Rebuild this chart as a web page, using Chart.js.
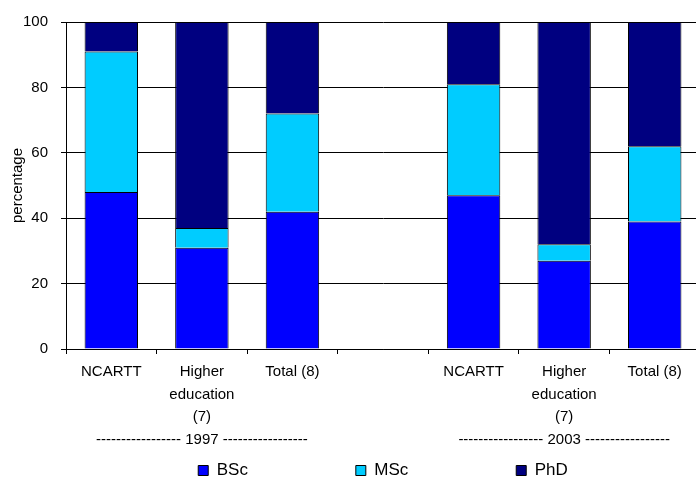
<!DOCTYPE html>
<html>
<head>
<meta charset="utf-8">
<script src="https://cdn.jsdelivr.net/npm/chart.js@4.4.1/dist/chart.umd.min.js"></script>
<style>
  html, body { margin: 0; padding: 0; background: #fff; overflow: hidden; }
  #wrap { width: 700px; height: 489px; }
</style>
</head>
<body>
<div id="wrap"><canvas id="grafico"></canvas></div>
<script>
// Datos del gráfico
const categorias = [
  "NCARTT",
  ["Higher", "education", "(7)", "----------------- 1997 -----------------"],
  "Total (8)",
  "",
  "NCARTT",
  ["Higher", "education", "(7)", "----------------- 2003 -----------------"],
  "Total (8)"
];
const series = ["BSc", "MSc", "PhD"];
const valoresBSc = [48, 31, 42, null, 47, 27, 39];
const valoresMSc = [43, 6, 30, null, 34, 5, 23];
const valoresPhD = [9, 63, 28, null, 19, 68, 38];
const ticksY = [0, 20, 40, 60, 80, 100];
const colores = ["#0000FF", "#00CCFF", "#000080"];

// espacios al final de cada texto de la leyenda para separar los elementos
const espaciosLeyenda = [22, 22, 0];

const fuente = "Arial, 'Liberation Sans', sans-serif";

const ctx = document.getElementById("grafico").getContext("2d");

new Chart(ctx, {
  type: "bar",
  data: {
    labels: categorias,
    datasets: [valoresBSc, valoresMSc, valoresPhD].map((vals, i) => ({
      label: series[i],
      data: vals,
      backgroundColor: colores[i],
      borderColor: "#000",
      borderWidth: 1,
      barPercentage: 0.59,
      categoryPercentage: 1
    }))
  },
  options: {
    responsive: true,
    maintainAspectRatio: false,
    animation: false,
    layout: { padding: { top: 20, right: 0, bottom: 0, left: 0 } },
    plugins: {
      tooltip: { enabled: false },
      legend: {
        position: "bottom",
        fullSize: false,
        labels: {
          boxWidth: 10,
          boxHeight: 10,
          padding: 4,
          color: "#000",
          font: { family: fuente, size: 17 },
          generateLabels: (chart) => {
            const items = Chart.defaults.plugins.legend.labels.generateLabels(chart);
            items.forEach((it, i) => { it.text = it.text + " ".repeat(espaciosLeyenda[i]); });
            return items;
          }
        }
      }
    },
    scales: {
      x: {
        stacked: true,
        grid: { drawOnChartArea: false, drawTicks: true, tickLength: 5, color: "#000" },
        border: { color: "#000", width: 1 },
        ticks: {
          autoSkip: false,
          maxRotation: 0,
          minRotation: 0,
          padding: 7,
          color: "#000",
          font: { family: fuente, size: 15, lineHeight: 1.5 }
        }
      },
      y: {
        stacked: true,
        min: 0,
        max: 100,
        afterBuildTicks: (scale) => { scale.ticks = ticksY.map(v => ({ value: v })); },
        grid: { color: "#000", tickLength: 5 },
        border: { color: "#000", width: 1 },
        title: {
          display: true,
          text: "percentage",
          color: "#000",
          font: { family: fuente, size: 15 },
          padding: { top: 9, bottom: -17 }
        },
        ticks: {
          padding: 13,
          color: "#000",
          font: { family: fuente, size: 15 }
        }
      }
    }
  }
});
</script>
</body>
</html>
